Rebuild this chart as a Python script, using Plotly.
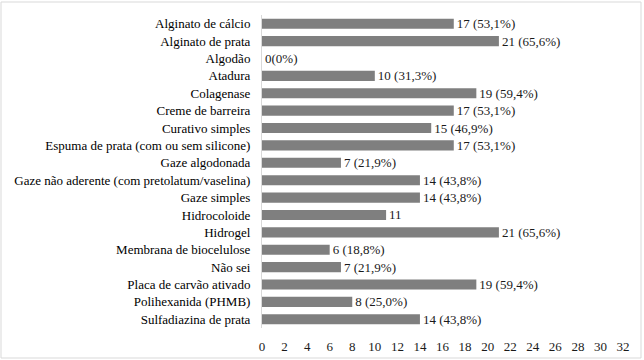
import plotly.graph_objects as go

categories = [
    "Alginato de cálcio", "Alginato de prata", "Algodão", "Atadura", "Colagenase",
    "Creme de barreira", "Curativo simples", "Espuma de prata (com ou sem silicone)",
    "Gaze algodonada", "Gaze não aderente (com pretolatum/vaselina)", "Gaze simples",
    "Hidrocoloide", "Hidrogel", "Membrana de biocelulose", "Não sei",
    "Placa de carvão ativado", "Polihexanida (PHMB)", "Sulfadiazina de prata",
]
values = [17, 21, 0, 10, 19, 17, 15, 17, 7, 14, 14, 11, 21, 6, 7, 19, 8, 14]
labels = [
    "17 (53,1%)", "21 (65,6%)", "0(0%)", "10 (31,3%)", "19 (59,4%)",
    "17 (53,1%)", "15 (46,9%)", "17 (53,1%)", "7 (21,9%)", "14 (43,8%)", "14 (43,8%)",
    "11", "21 (65,6%)", "6 (18,8%)", "7 (21,9%)", "19 (59,4%)", "8 (25,0%)", "14 (43,8%)",
]
x_ticks = list(range(0, 33, 2))

FONT = "Liberation Serif"
FS = 13

fig = go.Figure()
fig.add_trace(go.Bar(
    x=values, y=categories, orientation="h",
    marker=dict(color="#7f7f7f", line=dict(width=0)),
    width=0.58,
    text=labels, textposition="outside", cliponaxis=False, constraintext="none",
    textfont=dict(family=FONT, size=FS, color="#1a1a1a"),
    hoverinfo="skip",
))

fig.update_layout(
    width=644, height=360,
    margin=dict(l=262, r=21, t=15, b=32),
    paper_bgcolor="white", plot_bgcolor="white",
    showlegend=False,
    font=dict(family=FONT, size=FS, color="#000000"),
    xaxis=dict(
        range=[0, 32], tickvals=x_ticks, showgrid=False, zeroline=False,
        showline=False, ticks="", tickfont=dict(family=FONT, size=FS, color="#1a1a1a"),
        ticklabelstandoff=9, fixedrange=True, automargin=False,
    ),
    yaxis=dict(
        autorange="reversed", showgrid=False, zeroline=False,
        showline=True, linecolor="#d9d9d9", linewidth=1, ticks="",
        tickfont=dict(family=FONT, size=FS, color="#000000"),
        ticklabelstandoff=8, fixedrange=True, automargin=False,
    ),
    bargap=0.42,
    shapes=[dict(
        type="rect", xref="paper", yref="paper",
        x0=-261/361, x1=1 + 18/361, y0=-30/313, y1=1 + 13/313,
        line=dict(color="#d9d9d9", width=1), fillcolor="rgba(0,0,0,0)", layer="below",
    )],
)

fig.write_html("out.html", config={"displayModeBar": False},
               post_script="document.body.style.margin='0';document.body.style.padding='0';")
